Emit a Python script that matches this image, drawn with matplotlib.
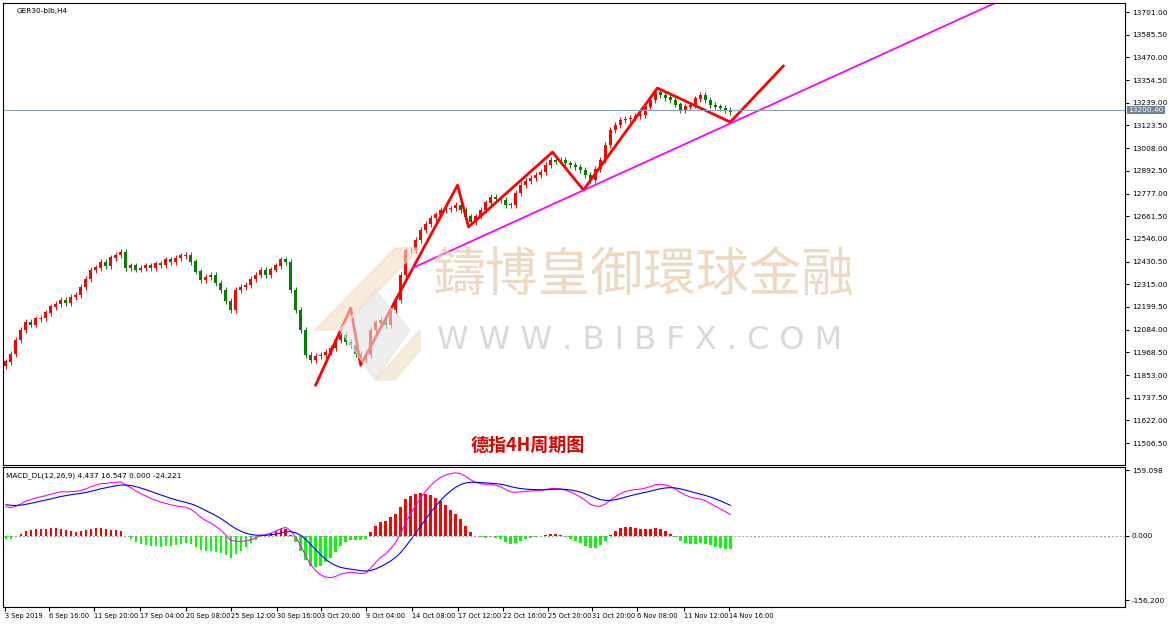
import numpy as np
import matplotlib
matplotlib.use("Agg")
import matplotlib.pyplot as plt
from matplotlib.patches import Polygon

plt.rcParams['font.family'] = ['DejaVu Sans', 'Noto Sans CJK SC']

closes = [11920,11960,12031,12080,12123,12110,12140,12143,12170,12200,12215,12235,12220,12250,12260,12300,12340,12388,12400,12428,
12410,12450,12464,12479,12398,12410,12390,12398,12410,12400,12420,12413,12440,12430,12449,12460,12464,12430,12380,12337,
12350,12362,12320,12286,12230,12184,12286,12300,12311,12340,12362,12388,12362,12390,12410,12440,12428,12286,12184,12082,
11955,11930,11950,11955,11970,11991,12030,12057,12020,12006,11960,11930,11955,12082,12120,12133,12108,12184,12235,12362,
12489,12489,12540,12591,12620,12652,12670,12693,12700,12703,12718,12693,12660,12632,12660,12693,12730,12759,12750,12744,
12720,12718,12780,12820,12840,12856,12870,12887,12920,12948,12940,12948,12930,12922,12910,12897,12870,12846,12900,12948,
13024,13100,13126,13151,13155,13161,13170,13177,13220,13253,13294,13279,13265,13253,13230,13202,13220,13228,13260,13279,
13253,13228,13220,13212,13200,13192]
opens = [11900] + closes[:-1]

zig_x = [62, 69, 71, 90.4, 92.6, 109.4, 115.6, 130.4, 145, 155.6]
zig_y = [11802, 12194, 11904, 12820, 12607, 12988, 12795, 13314, 13141, 13426]
trend_x = [81.4, 198]
trend_y = [12398, 13747]
last_price = 13200.40

price_ticks = [13701.00,13585.50,13470.00,13354.50,13239.00,13123.50,13008.00,12892.50,12777.00,12661.50,
               12546.00,12430.50,12315.00,12199.50,12084.00,11968.50,11853.00,11737.50,11622.00,11506.50]
time_labels = ["3 Sep 2019","6 Sep 16:00","11 Sep 20:00","17 Sep 04:00","20 Sep 08:00","25 Sep 12:00",
               "30 Sep 16:00","3 Oct 20:00","9 Oct 04:00","14 Oct 08:00","17 Oct 12:00","22 Oct 16:00",
               "25 Oct 20:00","31 Oct 20:00","6 Nov 08:00","11 Nov 12:00","14 Nov 16:00"]
time_px = [4,48,93,139,185,230,276,320,365,411,457,502,547,592,637,684,729]
time_pos = [(p - 5) / 5 for p in time_px]

c = np.array(closes, float); o = np.array(opens, float)
n = len(c); idx = np.arange(n)
hi = np.maximum(o, c) + 15; lo = np.minimum(o, c) - 15

def ema(x, p, seed):
    a = 2 / (p + 1); out = np.empty_like(x); out[0] = seed
    for i in range(1, len(x)):
        out[i] = a * x[i] + (1 - a) * out[i - 1]
    return out
macd = ema(c, 12, c[0]) - ema(c, 26, c[0] - 70)
sig = ema(macd, 9, 75)
hist = (macd - sig) * 1.5

fig = plt.figure(figsize=(11.7, 6.26), dpi=100)
xl = (-0.6, 224)
ax = fig.add_axes([3/1170, 1-465/626, 1122/1170, 462/626])
ax.set_xlim(*xl); ax.set_ylim(11395, 13747)
up = c >= o
ax.vlines(idx, lo, hi, colors=np.where(up, '#ff0000', '#008000'), lw=0.7)
ax.bar(idx, np.abs(c - o) + 2, bottom=np.minimum(o, c), width=0.6,
       color=np.where(up, '#ff0000', '#008000'))
ax.plot(zig_x, zig_y, color='#ff0000', lw=2)
ax.plot(trend_x, trend_y, color='#ff00ff', lw=1.3)
ax.axhline(last_price, color='#8fa3b8', lw=0.8)
ax.yaxis.tick_right()
ax.set_yticks(price_ticks)
ax.set_yticklabels([f"{t:.2f}" for t in price_ticks], fontsize=5.3)
ax.tick_params(axis='y', length=3, pad=2)
ax.set_xticks([])
ax.text(1.003, (last_price-11395)/(13747-11395), f"{last_price:.2f}", transform=ax.transAxes,
        fontsize=5.3, color='white', va='center', ha='left',
        bbox=dict(facecolor='#6f8296', edgecolor='none', pad=0.8))
ax.text(0.012, 0.99, "GER30-bib,H4", transform=ax.transAxes, fontsize=5.3, va='top')
ax.text(0.468, 0.03, "德指4H周期图", transform=ax.transAxes, fontsize=13, color='#e00000',
        fontweight='bold', ha='center', family=['Noto Sans CJK SC'])
# watermark
ax.text(0.383, 0.35, "鑄博皇御環球金融", transform=ax.transAxes, fontsize=38, color='#e8c9a8',
        alpha=0.7, family=['Noto Sans CJK TC'], va='bottom')
ax.text(0.387, 0.235, "W W W . B I B F X . C O M", transform=ax.transAxes, fontsize=23,
        color='#d0d0d0', alpha=0.8, va='bottom')
for pts, col in [([(315,330),(395,248),(420,248),(340,330)], '#f0dcc0'),
                 ([(340,330),(375,290),(410,330),(375,380)], '#e4e4e4'),
                 ([(375,380),(420,330),(420,350),(395,380)], '#f0dcc0')]:
    P = [(px/1170, 1-py/626) for px, py in pts]
    fig.patches.append(Polygon(P, closed=True, transform=fig.transFigure, color=col, alpha=0.6, zorder=0))

ax2 = fig.add_axes([3/1170, 1-607/626, 1122/1170, 140/626])
ax2.set_xlim(*xl); ax2.set_ylim(-173, 166.4)
ax2.bar(idx, hist, width=0.5, color=np.where(hist >= 0, '#ff0000', '#00ff00'))
ax2.plot(idx, macd, color='#ff00ff', lw=0.8)
ax2.plot(idx, sig, color='#0000ff', lw=0.8)
ax2.axhline(0, color='#999999', lw=0.7, ls=(0, (2, 2)))
ax2.yaxis.tick_right()
ax2.set_yticks([159.098, 0, -156.2])
ax2.set_yticklabels(["159.098", "0.000", "-156.200"], fontsize=5.3)
ax2.tick_params(axis='y', length=3, pad=2)
ax2.set_xticks(time_pos)
ax2.set_xticklabels(time_labels, fontsize=4.8, ha='left')
ax2.tick_params(axis='x', length=3, pad=1)
ax2.text(0.003, 0.96, "MACD_DL(12,26,9) 4.437 16.547 0.000 -24.221", transform=ax2.transAxes,
         fontsize=5.3, va='top')
fig.savefig("out.png", dpi=100)
